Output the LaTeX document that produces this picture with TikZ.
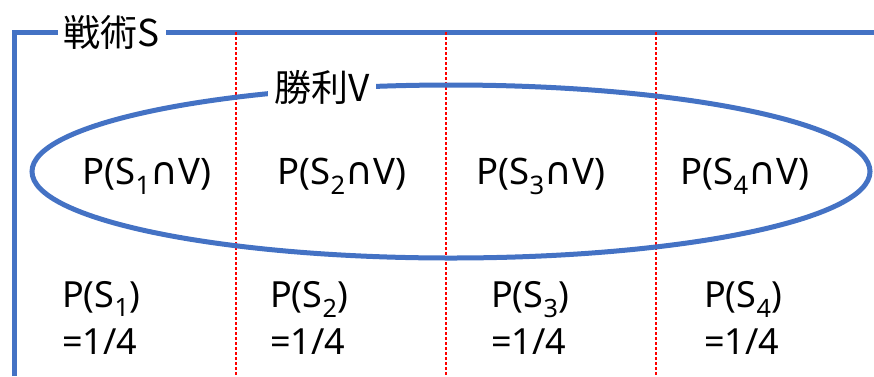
\documentclass[tikz,border=0pt]{standalone}
\usepackage{fontspec}
\setmainfont{Noto Sans}
\newfontfamily\jpfont{Noto Sans CJK JP}
\newfontfamily\symfont{DejaVu Sans}
\usepackage{xcolor}
\definecolor{frameblue}{HTML}{4472C4}
\newcommand{\sub}[1]{\textsubscript{#1}}
\newcommand{\capsym}{{\symfont\fontsize{38}{38}\selectfont ∩}}

\begin{document}
\begin{tikzpicture}[
x=1pt, y=-1pt,
frame/.style={draw=frameblue, line width=5pt},
divider/.style={draw=red, dash pattern=on 3pt off 2pt, line width=1.1pt},
label/.style={fill=white, inner sep=6pt, font=\jpfont\fontsize{37}{40}\selectfont},
prob/.style={font=\fontsize{36.5}{40}\selectfont, inner sep=0pt},
cell/.style={font=\fontsize{36}{47}\selectfont, align=left, anchor=west, inner sep=0pt}
]

\useasboundingbox (0,0) rectangle (874,376);

% frame and columns
\draw[frame] (14,376) -- (14,32) -- (874,32);
\foreach \x in {236,446,656}
  \draw[divider] (\x,32) -- (\x,376);

\node[label] (tactic) at (112,32) {戦術S};

% victory region
\draw[frame] (451,171.5) ellipse (419 and 86.5);
\node[label] (win) at (322,87) {勝利V};

\node[prob] (v1) at (147,176) {P(S\sub{1}\capsym V)};
\node[prob] (v2) at (342,176) {P(S\sub{2}\capsym V)};
\node[prob] (v3) at (541,176) {P(S\sub{3}\capsym V)};
\node[prob] (v4) at (745,176) {P(S\sub{4}\capsym V)};

\node[cell] (s1) at (62,318) {P(S\sub{1})\\=1/4};
\node[cell] (s2) at (270,318) {P(S\sub{2})\\=1/4};
\node[cell] (s3) at (491,318) {P(S\sub{3})\\=1/4};
\node[cell] (s4) at (704,318) {P(S\sub{4})\\=1/4};

\end{tikzpicture}
\end{document}
